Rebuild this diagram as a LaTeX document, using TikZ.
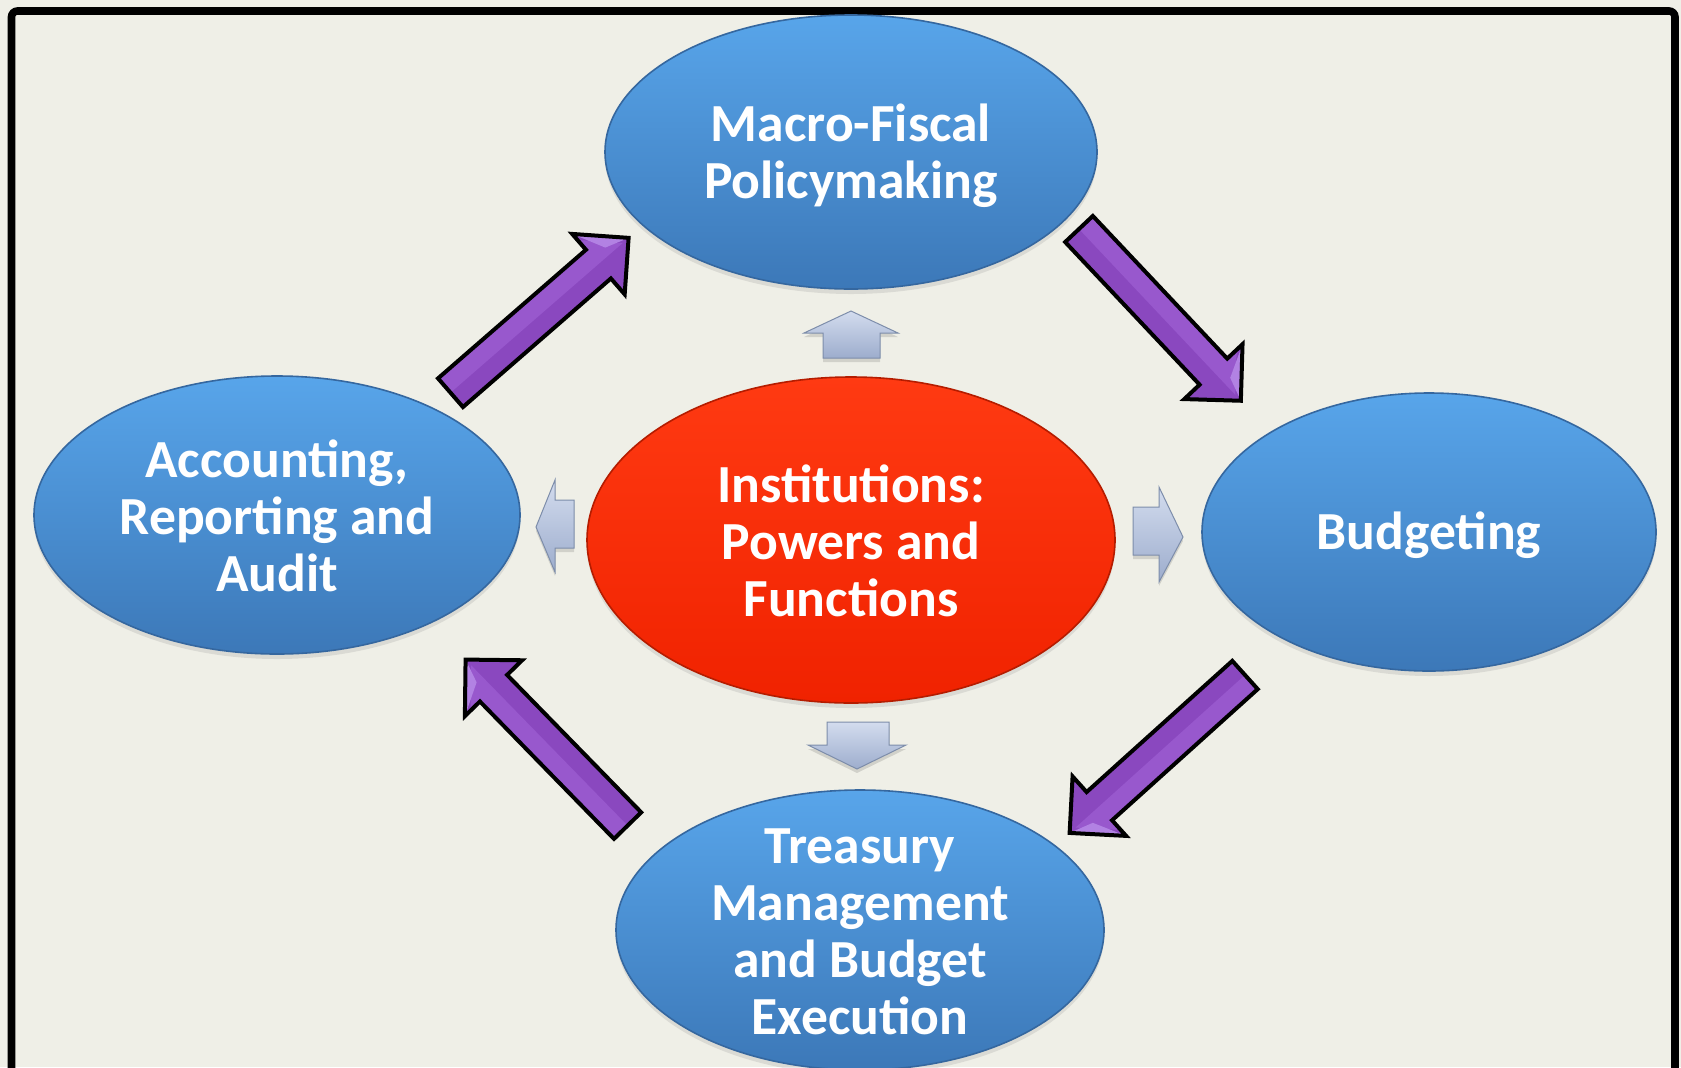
\documentclass[tikz,border=0pt]{standalone}
\usepackage{fontspec}
\setmainfont{Carlito}
\usetikzlibrary{shapes.geometric,shadows}

\definecolor{paper}{HTML}{EFEFE7}
\definecolor{blueTop}{HTML}{58A5EA}
\definecolor{blueBot}{HTML}{3C78B8}
\definecolor{blueEdge}{HTML}{35679F}
\definecolor{redTop}{HTML}{FF3A12}
\definecolor{redBot}{HTML}{F02200}
\definecolor{redEdge}{HTML}{B51C00}
\definecolor{purpleMid}{HTML}{8A48BF}
\definecolor{purpleLight}{HTML}{9858CD}
\definecolor{purpleTip}{HTML}{B282E3}
\definecolor{steelTop}{HTML}{D3DCEE}
\definecolor{steelBot}{HTML}{9DADCD}
\definecolor{steelEdge}{HTML}{7D8DAA}

\tikzset{
  stage/.style={ellipse, inner sep=0pt, draw=blueEdge, line width=0.8pt,
    top color=blueTop, bottom color=blueBot,
    drop shadow={shadow xshift=0pt, shadow yshift=-2.5pt, opacity=0.18}},
  core/.style={ellipse, inner sep=0pt, draw=redEdge, line width=0.8pt,
    top color=redTop, bottom color=redBot,
    drop shadow={shadow xshift=0pt, shadow yshift=-2.5pt, opacity=0.18}},
  stagetext/.style={text=white, align=center, inner sep=0pt,
    font=\bfseries\fontsize{26.8}{28.4}\selectfont},
  steelarrow/.style={draw=steelEdge, line width=0.5pt, line join=miter,
    top color=steelTop, bottom color=steelBot},
  steelshadow/.style={fill=black, opacity=0.12},
  % large bevelled block arrow, drawn from its tail along +x; #1 = length
  pics/cyclearrow/.style={code={
    \fill[purpleMid] (0pt,-9.5pt) -- ({#1-20pt},-9.5pt) -- ({#1-20pt},-20pt)
      -- (#1,0pt) -- ({#1-20pt},20pt) -- ({#1-20pt},9.5pt) -- (0pt,9.5pt) -- cycle;
    \fill[purpleLight] (0pt,0pt) -- ({#1-4pt},0pt) -- ({#1-20pt},16pt)
      -- ({#1-20pt},9.5pt) -- (0pt,9.5pt) -- cycle;
    \fill[purpleTip] (#1,0pt) -- ({#1-20pt},20pt) -- ({#1-12pt},4pt) -- cycle;
    \draw[black, line width=2pt, line join=miter]
      (0pt,-9.5pt) -- ({#1-20pt},-9.5pt) -- ({#1-20pt},-20pt)
      -- (#1,0pt) -- ({#1-20pt},20pt) -- ({#1-20pt},9.5pt) -- (0pt,9.5pt) -- cycle;
  }}
}

\begin{document}
\begin{tikzpicture}[x=0.5pt,y=-0.5pt]
\useasboundingbox (0,0) rectangle (1681,1067);
\clip (0,0) rectangle (1681,1067);
\fill[paper] (0,0) rectangle (1681,1067);

% outer frame (runs past the lower edge)
\draw[line width=3.8pt, rounded corners=3pt] (11.5,11) rectangle (1675,1110);

% the five ellipses
\node[stage, minimum width=246pt, minimum height=137pt] (macro) at (851,152) {};
\node[stage, minimum width=243pt, minimum height=139pt] (audit) at (277,515) {};
\node[core,  minimum width=264pt, minimum height=163pt] (inst) at (851,540) {};
\node[stage, minimum width=227pt, minimum height=139pt] (budget) at (1429,532) {};
\node[stage, minimum width=244pt, minimum height=140pt] (treasury) at (860,930) {};

\node[stagetext] (macro-t) at ([yshift=-2pt]macro.center) {Macro-Fiscal\\Policymaking};
\node[stagetext] (audit-t) at ([yshift=-0.5pt]audit.center) {Accounting,\\Reporting and\\Audit};
\node[stagetext] (inst-t) at ([yshift=-0.5pt]inst.center) {Institutions:\\Powers and\\Functions};
\node[stagetext] (budget-t) at ([yshift=-1.5pt]budget.center) {Budgeting};
\node[stagetext] (treasury-t) at ([yshift=-1pt]treasury.center) {Treasury\\Management\\and Budget\\Execution};

% cycle arrows between the outer stages
\pic[rotate=41]    at (450.5,392.7) {cyclearrow=118pt};
\pic[rotate=-46.7] at (1079,229)    {cyclearrow=118pt};
\pic[rotate=-138]  at (1245,675)    {cyclearrow=118pt};
\pic[rotate=134.3] at (627.6,825.6) {cyclearrow=116pt};

% small arrows leaving the central institutions ellipse
\fill[steelshadow] (851,315) -- (898,337) -- (880,337) -- (880,362) -- (823,362) -- (823,337) -- (804,337) -- cycle;
\shade[steelarrow] (851,311) -- (898,333) -- (880,333) -- (880,358) -- (823,358) -- (823,333) -- (804,333) -- cycle;

\fill[steelshadow] (827,726) -- (889,726) -- (889,749) -- (906,749) -- (857,773) -- (808,749) -- (827,749) -- cycle;
\shade[steelarrow] (827,722) -- (889,722) -- (889,745) -- (906,745) -- (857,769) -- (808,745) -- (827,745) -- cycle;

\fill[steelshadow] (536,531) -- (555,484) -- (555,504) -- (574,504) -- (574,552) -- (555,552) -- (555,576) -- cycle;
\shade[steelarrow] (536,527) -- (555,480) -- (555,500) -- (574,500) -- (574,548) -- (555,548) -- (555,572) -- cycle;

\fill[steelshadow] (1133,511) -- (1159,511) -- (1159,491) -- (1183,541) -- (1159,586) -- (1159,559) -- (1133,559) -- cycle;
\shade[steelarrow] (1133,507) -- (1159,507) -- (1159,487) -- (1183,537) -- (1159,582) -- (1159,555) -- (1133,555) -- cycle;
\end{tikzpicture}
\end{document}
